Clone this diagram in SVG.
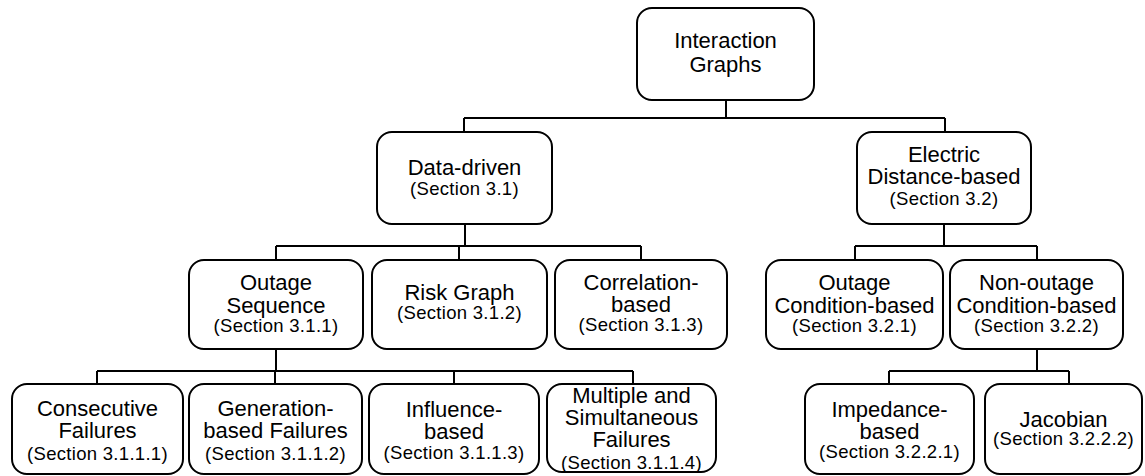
<svg xmlns="http://www.w3.org/2000/svg" width="1145" height="476" viewBox="0 0 1145 476">
<style>
.box{fill:#fff;stroke:#000;stroke-width:2}
.t{font-family:"Liberation Sans",Arial,sans-serif;font-size:22px;fill:#000;text-anchor:middle}
.s{font-family:"Liberation Sans",Arial,sans-serif;font-size:18.5px;fill:#000;text-anchor:middle;letter-spacing:0.3px}
.c{fill:none;stroke:#000;stroke-width:2}
</style>
<rect width="1145" height="476" fill="#fff"/>
<g id="connectors">
<path class="c" d="M726 100V118M464 118H945M464 118V132M945 118V132"/>
<path class="c" d="M465 224V246M276 246H641M276 246V260M459 246V260M641 246V260"/>
<path class="c" d="M944 224V246M855 246H1037M855 246V260M1037 246V260"/>
<path class="c" d="M276 349V371M97 371H633M97 371V384M275 371V384M454 371V384M633 371V384"/>
<path class="c" d="M1037 349V371M889 371H1069M889 371V384M1069 371V384"/>
</g>
<g id="root">
<rect class="box" x="637" y="8" width="177" height="92" rx="15"/>
<text class="t" x="725.5" y="48">Interaction</text>
<text class="t" x="725.5" y="72">Graphs</text>
</g>
<g id="data-driven">
<rect class="box" x="377" y="132" width="175" height="92" rx="15"/>
<text class="t" x="464.5" y="175">Data-driven</text>
<text class="s" x="464.5" y="195">(Section 3.1)</text>
</g>
<g id="electric">
<rect class="box" x="857" y="132" width="174" height="92" rx="15"/>
<text class="t" x="944" y="162">Electric</text>
<text class="t" x="944" y="184">Distance-based</text>
<text class="s" x="944" y="205">(Section 3.2)</text>
</g>
<g id="outage-sequence">
<rect class="box" x="189" y="260" width="174" height="89" rx="15"/>
<text class="t" x="276" y="290">Outage</text>
<text class="t" x="276" y="313">Sequence</text>
<text class="s" x="276" y="332">(Section 3.1.1)</text>
</g>
<g id="risk-graph">
<rect class="box" x="372" y="260" width="175" height="89" rx="15"/>
<text class="t" x="459.5" y="300">Risk Graph</text>
<text class="s" x="459.5" y="319">(Section 3.1.2)</text>
</g>
<g id="correlation">
<rect class="box" x="555" y="260" width="172" height="89" rx="15"/>
<text class="t" x="641" y="290">Correlation-</text>
<text class="t" x="641" y="312">based</text>
<text class="s" x="641" y="331">(Section 3.1.3)</text>
</g>
<g id="outage-condition">
<rect class="box" x="766" y="260" width="177" height="89" rx="15"/>
<text class="t" x="854.5" y="290">Outage</text>
<text class="t" x="854.5" y="313">Condition-based</text>
<text class="s" x="854.5" y="332">(Section 3.2.1)</text>
</g>
<g id="non-outage-condition">
<rect class="box" x="950" y="260" width="173" height="89" rx="15"/>
<text class="t" x="1036.5" y="290">Non-outage</text>
<text class="t" x="1036.5" y="313">Condition-based</text>
<text class="s" x="1036.5" y="332">(Section 3.2.2)</text>
</g>
<g id="consecutive">
<rect class="box" x="12" y="384" width="171" height="90" rx="15"/>
<text class="t" x="97.5" y="416">Consecutive</text>
<text class="t" x="97.5" y="438">Failures</text>
<text class="s" x="97.5" y="460">(Section 3.1.1.1)</text>
</g>
<g id="generation">
<rect class="box" x="189" y="384" width="173" height="90" rx="15"/>
<text class="t" x="275.5" y="416">Generation-</text>
<text class="t" x="275.5" y="438">based Failures</text>
<text class="s" x="275.5" y="460">(Section 3.1.1.2)</text>
</g>
<g id="influence">
<rect class="box" x="369" y="384" width="170" height="90" rx="15"/>
<text class="t" x="454" y="417">Influence-</text>
<text class="t" x="454" y="439">based</text>
<text class="s" x="454" y="459">(Section 3.1.1.3)</text>
</g>
<g id="multiple">
<rect class="box" x="547" y="384" width="169" height="88" rx="15"/>
<text class="t" x="631.5" y="403">Multiple and</text>
<text class="t" x="631.5" y="425">Simultaneous</text>
<text class="t" x="631.5" y="447">Failures</text>
<text class="s" x="631.5" y="469">(Section 3.1.1.4)</text>
</g>
<g id="impedance">
<rect class="box" x="805" y="384" width="169" height="90" rx="15"/>
<text class="t" x="889.5" y="417">Impedance-</text>
<text class="t" x="889.5" y="439">based</text>
<text class="s" x="889.5" y="458">(Section 3.2.2.1)</text>
</g>
<g id="jacobian">
<rect class="box" x="985" y="384" width="157" height="90" rx="15"/>
<text class="t" x="1063.5" y="427">Jacobian</text>
<text class="s" x="1063.5" y="445">(Section 3.2.2.2)</text>
</g>
</svg>
